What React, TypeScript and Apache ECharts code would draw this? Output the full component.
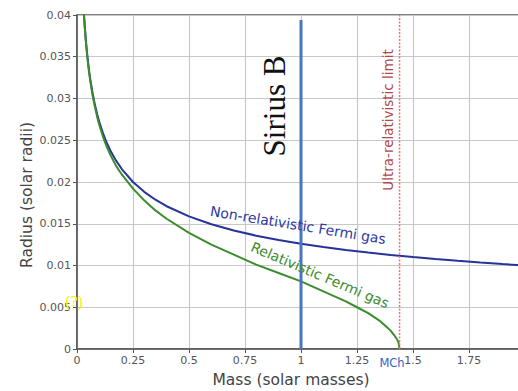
import React, { useEffect, useRef } from "react";
import * as echarts from "echarts";

// Mass (solar masses) and radius (solar radii)
const massNonRel = [0.03, 0.035, 0.04, 0.045, 0.05, 0.055, 0.06, 0.07, 0.08, 0.09, 0.1, 0.115, 0.13, 0.15, 0.175, 0.2, 0.25, 0.3, 0.35, 0.4, 0.5, 0.6, 0.7, 0.8, 0.9, 1.0, 1.1, 1.2, 1.3, 1.4, 1.5, 1.6, 1.7, 1.8, 1.9, 2.0];
const radiusNonRel = [0.04055, 0.03852, 0.03684, 0.03542, 0.0342, 0.03311, 0.03218, 0.03057, 0.02924, 0.02811, 0.02714, 0.02591, 0.02486, 0.02372, 0.02253, 0.02155, 0.02, 0.01882, 0.01788, 0.0171, 0.01588, 0.01494, 0.01419, 0.01357, 0.01305, 0.0126, 0.01221, 0.01186, 0.01155, 0.01126, 0.01101, 0.01077, 0.01056, 0.01036, 0.01017, 0.01];

const massRel = [0.03, 0.035, 0.04, 0.045, 0.05, 0.055, 0.06, 0.07, 0.08, 0.09, 0.1, 0.115, 0.13, 0.15, 0.175, 0.2, 0.25, 0.3, 0.35, 0.4, 0.5, 0.6, 0.7, 0.8, 0.9, 1.0, 1.1, 1.2, 1.25, 1.3, 1.35, 1.38, 1.4, 1.42, 1.43, 1.435, 1.44];
const radiusRel = [0.0404, 0.0384, 0.0367, 0.03525, 0.034, 0.0329, 0.032, 0.0303, 0.029, 0.0278, 0.0268, 0.0255, 0.0244, 0.0232, 0.0219, 0.0209, 0.0192, 0.0178, 0.0166, 0.0156, 0.0139, 0.0125, 0.0113, 0.0101, 0.0091, 0.0081, 0.0069, 0.0057, 0.005, 0.0043, 0.0034, 0.0027, 0.0022, 0.0015, 0.0011, 0.0008, 0];

const siriusMass = [1.0, 1.0];
const siriusRadius = [0, 0.0394];
const chandraMass = [1.44, 1.44];
const chandraRadius = [0, 0.04];

const xTickLabels = ["0", "0.25", "0.5", "0.75", "1", "1.25", "1.5", "1.75"];
const yTickLabels = ["0", "0.005", "0.01", "0.015", "0.02", "0.025", "0.03", "0.035", "0.04"];

const zip = (xs: number[], ys: number[]) => xs.map((x, i) => [x, ys[i]]);

export default function App() {
  const ref = useRef<HTMLDivElement>(null);
  useEffect(() => {
    if (!ref.current) return;
    const chart = echarts.init(ref.current, undefined, { renderer: "svg" });
    const font = "DejaVu Sans";
    const tickLabelStyle = { color: "#555", fontSize: 11, fontFamily: font };
    const xLabelSet = new Set(xTickLabels);
    const yLabelSet = new Set(yTickLabels);
    chart.setOption({
      animation: false,
      backgroundColor: "#ffffff",
      grid: {
        left: 77,
        top: 15,
        right: 0,
        bottom: 42,
        show: true,
        borderColor: "#555",
        borderWidth: 1.5,
        containLabel: false,
      },
      xAxis: {
        type: "value",
        min: 0,
        max: 2,
        interval: 0.25,
        axisLine: { show: true, lineStyle: { color: "#555", width: 1.5 } },
        axisTick: { show: true, length: 4, lineStyle: { color: "#555" } },
        axisLabel: {
          ...tickLabelStyle,
          margin: 6,
          formatter: (v: number) => {
            const s = String(Math.round(v * 100) / 100);
            return xLabelSet.has(s) ? s : "";
          },
        },
        splitLine: { show: true, lineStyle: { color: "#c8c8c8", width: 1.2 } },
      },
      yAxis: {
        type: "value",
        min: 0,
        max: 0.04,
        interval: 0.005,
        axisLine: { show: true, lineStyle: { color: "#555", width: 1.5 } },
        axisTick: { show: true, length: 4, lineStyle: { color: "#555" } },
        axisLabel: {
          ...tickLabelStyle,
          margin: 6,
          formatter: (v: number) => {
            const s = String(Math.round(v * 1000) / 1000);
            return yLabelSet.has(s) ? s : "";
          },
        },
        splitLine: { show: true, lineStyle: { color: "#c8c8c8", width: 1.2 } },
      },
      series: [
        {
          name: "Non-relativistic Fermi gas",
          type: "line",
          data: zip(massNonRel, radiusNonRel),
          showSymbol: false,
          smooth: false,
          clip: true,
          lineStyle: { color: "#25339a", width: 2 },
          z: 3,
        },
        {
          name: "Relativistic Fermi gas",
          type: "line",
          data: zip(massRel, radiusRel),
          showSymbol: false,
          smooth: false,
          clip: true,
          lineStyle: { color: "#3b8c2c", width: 2 },
          z: 4,
        },
        {
          name: "Sirius B",
          type: "line",
          data: zip(siriusMass, siriusRadius),
          showSymbol: false,
          lineStyle: { color: "#4a74c6", width: 3 },
          z: 5,
        },
        {
          name: "Ultra-relativistic limit",
          type: "line",
          data: zip(chandraMass, chandraRadius),
          showSymbol: false,
          lineStyle: { color: "#ff6a6a", width: 1.5, type: [2, 1.5] },
          z: 5,
        },
      ],
      graphic: [
        {
          type: "text",
          x: 291,
          y: 380,
          style: { text: "Mass (solar masses)", fill: "#444", fontSize: 15.5, fontFamily: font, align: "center", verticalAlign: "middle" },
        },
        {
          type: "text",
          x: 27,
          y: 195,
          rotation: Math.PI / 2,
          style: { text: "Radius (solar radii)", fill: "#444", fontSize: 15.5, fontFamily: font, align: "center", verticalAlign: "middle" },
        },
        {
          type: "text",
          x: 274,
          y: 106,
          rotation: Math.PI / 2,
          z: 10,
          style: { text: "Sirius B", fill: "#111", fontSize: 31, fontFamily: "Liberation Serif", align: "center", verticalAlign: "middle" },
        },
        {
          type: "text",
          x: 388,
          y: 120,
          rotation: Math.PI / 2,
          z: 10,
          style: { text: "Ultra-relativistic limit", fill: "#b04a4a", fontSize: 13.5, fontFamily: font, align: "center", verticalAlign: "middle" },
        },
        {
          type: "text",
          x: 298,
          y: 225,
          rotation: -0.16,
          z: 10,
          style: { text: "Non-relativistic Fermi gas", fill: "#2b3a9e", fontSize: 14, fontFamily: font, align: "center", verticalAlign: "middle" },
        },
        {
          type: "text",
          x: 320,
          y: 275,
          rotation: -0.4,
          z: 10,
          style: { text: "Relativistic Fermi gas", fill: "#3b8c2c", fontSize: 14, fontFamily: font, align: "center", verticalAlign: "middle" },
        },
        {
          type: "text",
          x: 392,
          y: 363,
          z: 10,
          style: { text: "MCh", fill: "#3a5fcd", fontSize: 11.5, fontFamily: font, align: "center", verticalAlign: "middle" },
        },
        {
          type: "text",
          x: 74,
          y: 301,
          z: 10,
          style: { text: "(?)", fill: "#f2f200", fontSize: 16, fontFamily: "Liberation Serif", align: "center", verticalAlign: "middle" },
        },
      ],
    });
    return () => chart.dispose();
  }, []);
  return <div ref={ref} style={{ position: "fixed", left: 0, top: 0, width: 528, height: 391 }} />;
}
